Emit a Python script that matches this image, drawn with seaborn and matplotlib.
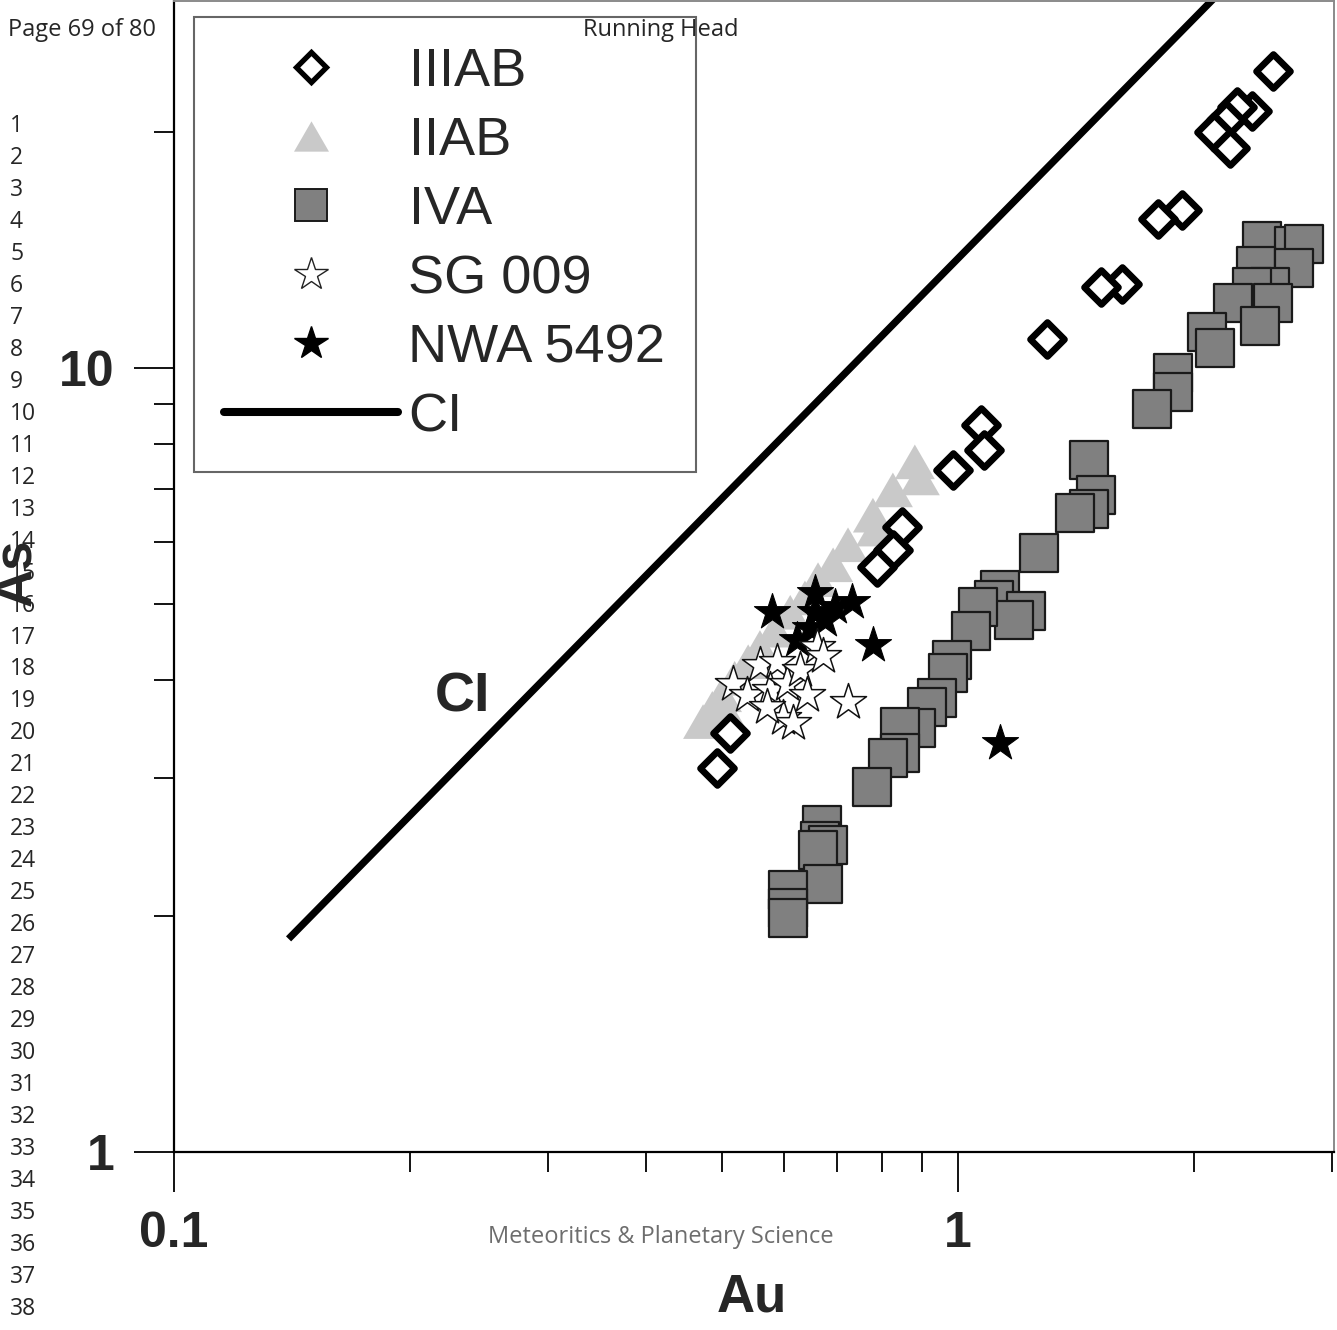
import numpy as np
import pandas as pd
import matplotlib
matplotlib.use("Agg")
import matplotlib.pyplot as plt
from matplotlib.lines import Line2D
from matplotlib.path import Path
from matplotlib.markers import MarkerStyle
from matplotlib.ticker import FixedLocator, FixedFormatter, NullFormatter
import seaborn as sns

# ---------------- data (Au, As in ppm) ----------------
iiiab_au = [2.52, 2.37, 2.27, 2.20, 2.12, 2.22, 1.93, 1.80, 1.62, 1.52, 1.30,
            1.07, 1.08, 0.985, 0.848, 0.826, 0.788, 0.512, 0.493]
iiiab_as = [23.9, 21.3, 21.5, 20.7, 20.0, 19.1, 15.9, 15.5, 12.8, 12.7, 10.9,
            8.46, 7.86, 7.41, 6.27, 5.86, 5.58, 3.42, 3.09]

iiab_au = [0.881, 0.894, 0.826, 0.779, 0.786, 0.724, 0.693, 0.663, 0.638,
           0.611, 0.584, 0.559, 0.540, 0.519, 0.500, 0.486, 0.473, 0.509]
iiab_as = [7.59, 7.24, 6.99, 6.49, 6.23, 5.95, 5.61, 5.37, 5.09,
           4.88, 4.63, 4.40, 4.22, 4.02, 3.83, 3.68, 3.54, 3.61]

iva_au = [2.44, 2.68, 2.76, 2.40, 2.68, 2.50, 2.37, 2.24, 2.52, 2.43,
          2.08, 2.13, 1.88, 1.88, 1.77, 1.47, 1.50, 1.47, 1.41, 1.27,
          1.13, 1.11, 1.22, 1.18, 1.06, 1.04, 0.982, 0.971, 0.940, 0.913,
          0.884, 0.843, 0.843, 0.814, 0.777, 0.671, 0.667, 0.683, 0.663, 0.673,
          0.607, 0.607, 0.607]
iva_as = [14.5, 14.3, 14.4, 13.5, 13.4, 12.7, 12.7, 12.1, 12.1, 11.3,
          11.1, 10.6, 9.85, 9.32, 8.86, 7.63, 6.89, 6.61, 6.53, 5.81,
          5.21, 5.06, 4.90, 4.77, 4.96, 4.62, 4.24, 4.08, 3.79, 3.69,
          3.47, 3.48, 3.23, 3.18, 2.92, 2.61, 2.49, 2.46, 2.43, 2.20,
          2.16, 2.05, 1.99]

sg009_au = [0.516, 0.538, 0.559, 0.588, 0.576, 0.605, 0.629, 0.642, 0.661,
            0.673, 0.598, 0.616, 0.571, 0.724]
sg009_as = [3.95, 3.83, 4.18, 4.22, 3.88, 3.95, 4.12, 3.83, 4.41,
            4.29, 3.58, 3.53, 3.69, 3.75]

nwa_au = [0.579, 0.657, 0.732, 0.697, 0.657, 0.677, 0.647, 0.623, 0.779, 1.131]
nwa_as = [4.88, 5.16, 5.03, 4.96, 4.88, 4.77, 4.66, 4.50, 4.43, 3.32]

ci_au = [0.14, 2.5]
ci_as = [1.87, 35.0]

legend_labels = ["IIIAB", "IIAB", "IVA", "SG 009", "NWA 5492", "CI"]
x_major = [0.1, 1]
x_major_labels = ["0.1", "1"]
x_minor = [0.2, 0.3, 0.4, 0.5, 0.6, 0.7, 0.8, 0.9, 2, 3]
y_major = [1, 10]
y_major_labels = ["1", "10"]
y_minor = [2, 3, 4, 5, 6, 7, 8, 9, 20]

# ---------------- figure ----------------
sns.set_style("white")
plt.rcParams["font.family"] = ["Liberation Sans", "DejaVu Sans"]

W, H = 1337, 1330
fig = plt.figure(figsize=(W / 100, H / 100), dpi=100)
ax = fig.add_axes([174 / W, (H - 1152) / H, (1334 - 174) / W, 1151 / H])
ax.set_xscale("log")
ax.set_yscale("log")

tri_path = Path([(-1, -0.866), (1, -0.866), (0, 0.866), (-1, -0.866)],
                [Path.MOVETO, Path.LINETO, Path.LINETO, Path.CLOSEPOLY])
tri = MarkerStyle(tri_path)

df = pd.concat([
    pd.DataFrame({"Au": iva_au, "As": iva_as, "group": "IVA"}),
    pd.DataFrame({"Au": iiab_au, "As": iiab_as, "group": "IIAB"}),
    pd.DataFrame({"Au": iiiab_au, "As": iiiab_as, "group": "IIIAB"}),
    pd.DataFrame({"Au": nwa_au, "As": nwa_as, "group": "NWA 5492"}),
    pd.DataFrame({"Au": sg009_au, "As": sg009_as, "group": "SG 009"}),
], ignore_index=True)

ci_df = pd.DataFrame({"Au": ci_au, "As": ci_as})
sns.lineplot(data=ci_df, x="Au", y="As", ax=ax, color="black", lw=5.2,
             solid_capstyle="butt", legend=False, zorder=2)

styles = {
    "IVA": dict(marker="s", s=750, color="#808080", edgecolor="#1a1a1a", linewidth=1.6),
    "IIAB": dict(marker=tri, s=830, color="#c9c9c9", edgecolor="none", linewidth=0),
    "IIIAB": dict(marker="D", s=300, color="white", edgecolor="black", linewidth=4.8),
    "NWA 5492": dict(marker="*", s=745, color="black", edgecolor="black", linewidth=0.8),
    "SG 009": dict(marker="*", s=745, color="white", edgecolor="#111111", linewidth=1.1),
}
for i, g in enumerate(["IVA", "IIAB", "IIIAB", "NWA 5492", "SG 009"]):
    sns.scatterplot(data=df[df["group"] == g], x="Au", y="As", ax=ax,
                    legend=False, zorder=3 + i, **styles[g])

ax.set_xscale("log")
ax.set_yscale("log")
ax.set_xlim(0.1, 3.0175)
ax.set_ylim(1, 29.38)

ax.xaxis.set_major_locator(FixedLocator(x_major))
ax.xaxis.set_major_formatter(FixedFormatter(x_major_labels))
ax.xaxis.set_minor_locator(FixedLocator(x_minor))
ax.xaxis.set_minor_formatter(NullFormatter())
ax.yaxis.set_major_locator(FixedLocator(y_major))
ax.yaxis.set_major_formatter(FixedFormatter(y_major_labels))
ax.yaxis.set_minor_locator(FixedLocator(y_minor))
ax.yaxis.set_minor_formatter(NullFormatter())

ax.tick_params(which="major", direction="out", length=28.8, width=1.3,
               pad=14, labelsize=36, color="black", left=True, bottom=True)
ax.tick_params(which="minor", direction="out", length=14.4, width=1.3,
               color="black", left=True, bottom=True)
for lbl in ax.get_xticklabels() + ax.get_yticklabels():
    lbl.set_fontweight("bold")

ax.set_xlabel("")
ax.set_ylabel("")
for side in ["left", "bottom"]:
    ax.spines[side].set_color("black")
    ax.spines[side].set_linewidth(1.6)
for side in ["top", "right"]:
    ax.spines[side].set_color("#8a8a8a")
    ax.spines[side].set_linewidth(1.4)

ax.text(0.233, 3.80, "CI", fontsize=40, fontweight="bold", ha="center",
        va="center", zorder=10)

handles = [
    Line2D([], [], ls="none", marker="D", mfc="white", mec="black", mew=3.8, ms=14.8),
    Line2D([], [], ls="none", marker=tri, mfc="#c9c9c9", mec="none", ms=25.2),
    Line2D([], [], ls="none", marker="s", mfc="#808080", mec="#1a1a1a", mew=1.4, ms=23),
    Line2D([], [], ls="none", marker="*", mfc="white", mec="#222222", mew=1.0, ms=25),
    Line2D([], [], ls="none", marker="*", mfc="black", mec="black", mew=1.0, ms=25),
    Line2D([], [], color="black", lw=5.8, solid_capstyle="round"),
]
leg = ax.legend(handles, legend_labels, loc="upper left",
                bbox_to_anchor=((194 - 174) / 1160, (1152 - 17) / 1151),
                borderaxespad=0, fontsize=39, frameon=True, fancybox=False,
                framealpha=1, edgecolor="#666666", facecolor="white",
                borderpad=0.56, handlelength=3.2, handletextpad=0.2,
                labelspacing=0.35, numpoints=1)
leg.get_frame().set_linewidth(1.5)
leg.set_zorder(20)

# axis titles
fig.text(752 / W, 1 - 1298 / H, "Au", fontsize=38, fontweight="bold",
         ha="center", va="center")
fig.text(16 / W, 1 - 572 / H, "As", fontsize=38, fontweight="bold",
         ha="center", va="center", rotation=90)

# page overlay texts
page_font = ["Open Sans", "DejaVu Sans"]
fig.text(8 / W, 1 - 30 / H, "Page 69 of 80", fontsize=17, family=page_font,
         ha="left", va="center")
fig.text(661 / W, 1 - 30 / H, "Running Head", fontsize=17, family=page_font,
         ha="center", va="center")
fig.text(661 / W, 1 - 1237 / H, "Meteoritics & Planetary Science", fontsize=17,
         family=page_font, color="#6d6d6d", ha="center", va="center")
for n in range(1, 39):
    fig.text(10 / W, 1 - (126 + (n - 1) * 31.97) / H, str(n), fontsize=16.5,
             family=page_font, ha="left", va="center")

fig.savefig("out.png", dpi=100)
